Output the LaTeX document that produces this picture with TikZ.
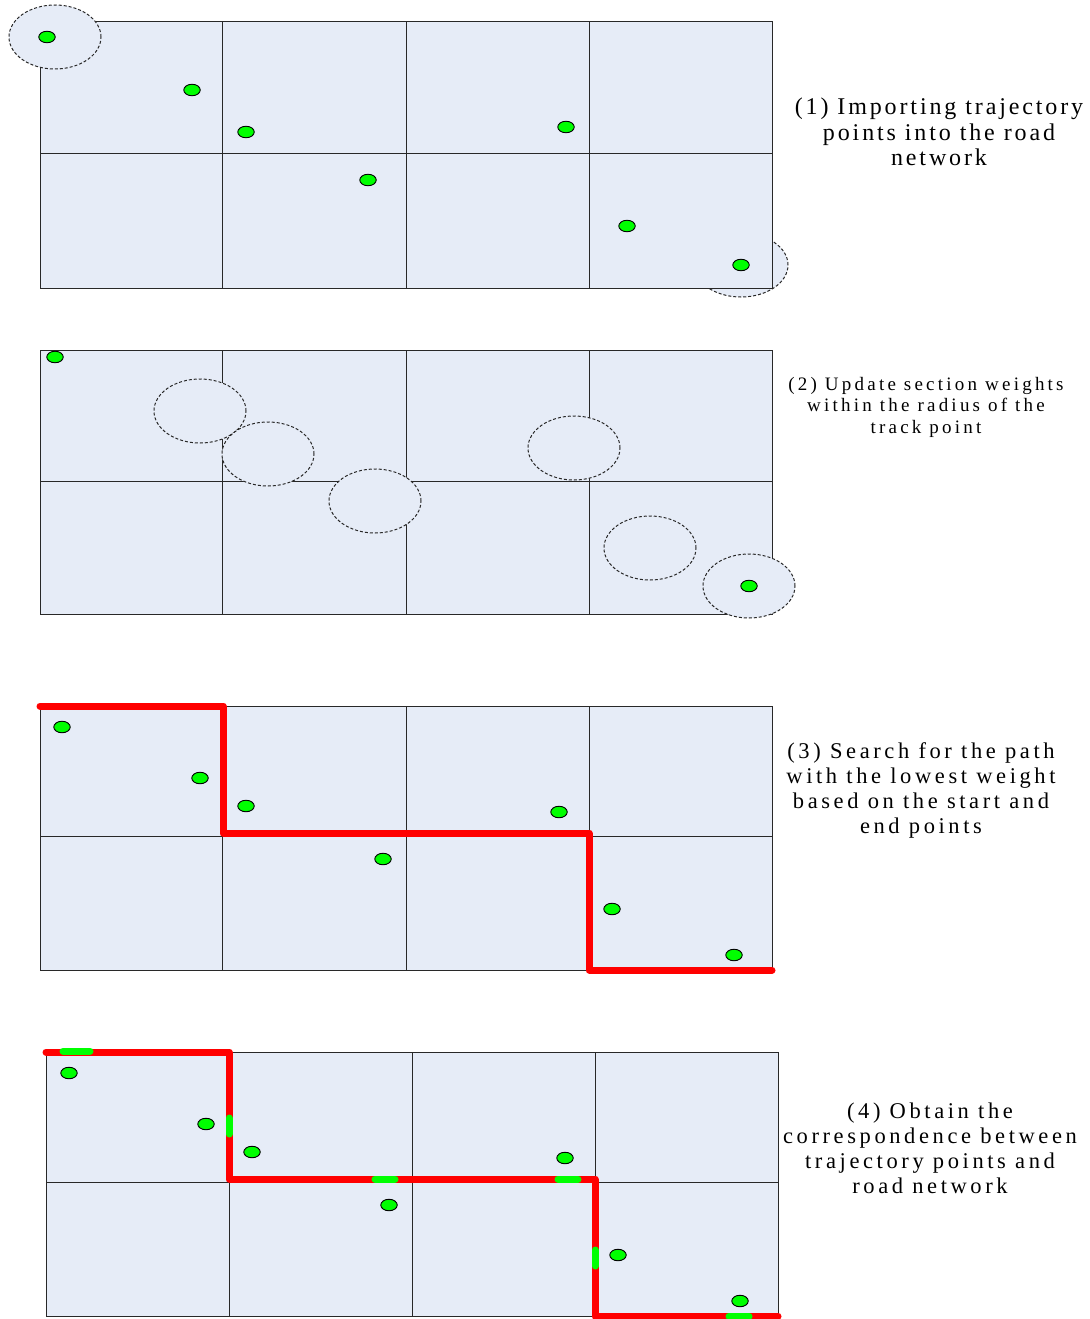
\documentclass[tikz,border=0pt]{standalone}
\usepackage{fontspec}
\setmainfont{Liberation Serif}
\newfontfamily\capfontA[LetterSpace=12]{Liberation Serif}
\newfontfamily\capfontB[LetterSpace=17]{Liberation Serif}
\newfontfamily\capfontC[LetterSpace=16]{Liberation Serif}
\usetikzlibrary{shapes.geometric}
\definecolor{cellblue}{RGB}{230,236,247}
\definecolor{gridgray}{RGB}{40,40,40}
\definecolor{zonegray}{RGB}{40,40,40}
\definecolor{ptgreen}{RGB}{0,255,0}
\definecolor{roadred}{RGB}{255,0,0}
\tikzset{
  cellarea/.style={fill=cellblue, draw=gridgray, line width=1pt},
  gridline/.style={draw=gridgray, line width=1pt},
  zone/.style={fill=cellblue, draw=zonegray, line width=1pt, dash pattern=on 3pt off 2pt},
  dot/.style={ellipse, fill=ptgreen, draw=black, line width=0.9pt, minimum width=16.5pt, minimum height=11.5pt, inner sep=0pt},
  road/.style={draw=roadred, line width=7pt, line cap=round, line join=round},
  match/.style={draw=ptgreen, line width=7pt, line cap=round},
  caption/.style={align=center, inner sep=0pt, text=black}
}
\begin{document}
\begin{tikzpicture}[x=1pt,y=-1pt]
\useasboundingbox[fill=white] (0,0) rectangle (1089,1319);

% ---------- Panel 1 ----------
\draw[zone] (741,265) ellipse [x radius=47pt, y radius=32pt];
\draw[cellarea] (40,22) rectangle (772,288);
\foreach \gx in {222,406,589} \draw[gridline] (\gx,22) -- (\gx,288);
\draw[gridline] (40,153) -- (772,153);
\draw[zone] (55,37) ellipse [x radius=46pt, y radius=32pt];
\node[dot] (a1) at (47,37) {};
\node[dot] (a2) at (192,90) {};
\node[dot] (a3) at (246,132) {};
\node[dot] (a4) at (566,127) {};
\node[dot] (a5) at (368,180) {};
\node[dot] (a6) at (627,226) {};
\node[dot] (a7) at (741,265) {};
\node[caption, font=\capfontA\fontsize{24}{25.5}\selectfont] (t1) at (939,132)
  {(1) Importing trajectory\\points into the road\\network};

% ---------- Panel 2 ----------
\draw[cellarea] (40,350) rectangle (772,614);
\foreach \gx in {222,406,589} \draw[gridline] (\gx,350) -- (\gx,614);
\draw[gridline] (40,481) -- (772,481);
\draw[zone] (200,411) ellipse [x radius=46pt, y radius=32pt];
\draw[zone] (268,454) ellipse [x radius=46pt, y radius=32pt];
\draw[zone] (375,501) ellipse [x radius=46pt, y radius=32pt];
\draw[zone] (574,448) ellipse [x radius=46pt, y radius=32pt];
\draw[zone] (650,548) ellipse [x radius=46pt, y radius=32pt];
\draw[zone] (749,586) ellipse [x radius=46pt, y radius=32pt];
\node[dot] (b1) at (55,357) {};
\node[dot] (b7) at (749,586) {};
\node[caption, font=\capfontB\fontsize{19}{21.5}\selectfont] (t2) at (926,407)
  {(2) Update section weights\\within the radius of the\\track point};

% ---------- Panel 3 ----------
\draw[cellarea] (40,706) rectangle (772,970);
\foreach \gx in {222,406,589} \draw[gridline] (\gx,706) -- (\gx,970);
\draw[gridline] (40,836) -- (772,836);
\coordinate (p0) at (40,706);
\coordinate (p1) at (223,706);
\coordinate (p2) at (223,833);
\coordinate (p3) at (589,833);
\coordinate (p4) at (589,970);
\coordinate (p5) at (772,970);
\draw[road] (p0) -- (p1) -- (p2) -- (p3) -- (p4) -- (p5);
\node[dot] (c1) at (62,727) {};
\node[dot] (c2) at (200,778) {};
\node[dot] (c3) at (246,806) {};
\node[dot] (c4) at (559,812) {};
\node[dot] (c5) at (383,859) {};
\node[dot] (c6) at (612,909) {};
\node[dot] (c7) at (734,955) {};
\node[caption, font=\capfontC\fontsize{22.5}{25}\selectfont] (t3) at (921,790)
  {(3) Search for the path\\with the lowest weight\\based on the start and\\end points};

% ---------- Panel 4 ----------
\draw[cellarea] (46,1052) rectangle (778,1316);
\foreach \gx in {229,412,595} \draw[gridline] (\gx,1052) -- (\gx,1316);
\draw[gridline] (46,1182) -- (778,1182);
\coordinate (q0) at (46,1052);
\coordinate (q1) at (229,1052);
\coordinate (q2) at (229,1179);
\coordinate (q3) at (595,1179);
\coordinate (q4) at (595,1316);
\coordinate (q5) at (778,1316);
\draw[road] (q0) -- (q1) -- (q2) -- (q3) -- (q4) -- (q5);
\coordinate (m1a) at (63,1051); \coordinate (m1b) at (90,1051);
\coordinate (m2a) at (229,1118); \coordinate (m2b) at (229,1134);
\coordinate (m3a) at (375,1179); \coordinate (m3b) at (395,1179);
\coordinate (m4a) at (558,1179); \coordinate (m4b) at (578,1179);
\coordinate (m5a) at (595,1250); \coordinate (m5b) at (595,1266);
\coordinate (m6a) at (729,1316); \coordinate (m6b) at (749,1316);
\draw[match] (m1a) -- (m1b);
\draw[match] (m2a) -- (m2b);
\draw[match] (m3a) -- (m3b);
\draw[match] (m4a) -- (m4b);
\draw[match] (m5a) -- (m5b);
\draw[match] (m6a) -- (m6b);
\node[dot] (d1) at (69,1073) {};
\node[dot] (d2) at (206,1124) {};
\node[dot] (d3) at (252,1152) {};
\node[dot] (d4) at (565,1158) {};
\node[dot] (d5) at (389,1205) {};
\node[dot] (d6) at (618,1255) {};
\node[dot] (d7) at (740,1301) {};
\node[caption, font=\capfontC\fontsize{22.5}{25}\selectfont] (t4) at (930,1148)
  {(4) Obtain the\\correspondence between\\trajectory points and\\road network};
\end{tikzpicture}
\end{document}
